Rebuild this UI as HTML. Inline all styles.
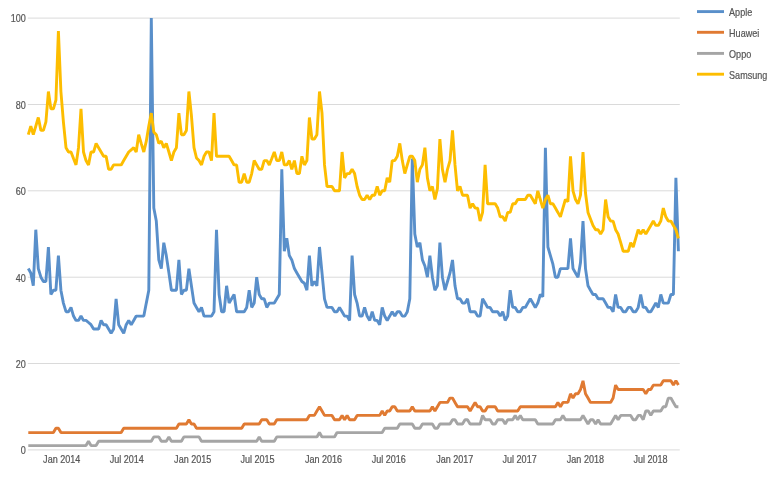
<!DOCTYPE html>
<html><head><meta charset="utf-8"><title>Search interest: Apple, Huawei, Oppo, Samsung</title>
<style>
html,body{margin:0;padding:0;background:#fff;}
body{width:780px;height:480px;overflow:hidden;}
svg{display:block;}
.series,.ylab,.xlab,.legend{filter:blur(0.35px);}
.grid{filter:blur(0.2px);}
svg text{font-family:"Liberation Sans",Arial,sans-serif;font-size:10px;fill:#555;stroke:#555;stroke-width:0.2px;}
.grid line{stroke:#d6d6d6;stroke-width:0.9;}
.series polyline{fill:none;stroke-width:2.9;stroke-linejoin:bevel;stroke-linecap:butt;}
</style></head><body>
<svg width="780" height="480" viewBox="0 0 780 480">
<rect width="780" height="480" fill="#fff"/>
<g class="grid"><line x1="27.8" x2="679.8" y1="449.9" y2="449.9"/><line x1="27.8" x2="679.8" y1="363.5" y2="363.5"/><line x1="27.8" x2="679.8" y1="277.2" y2="277.2"/><line x1="27.8" x2="679.8" y1="190.8" y2="190.8"/><line x1="27.8" x2="679.8" y1="104.5" y2="104.5"/><line x1="27.8" x2="679.8" y1="18.1" y2="18.1"/></g>
<g class="series">
<polyline points="28.3,268.6 30.8,272.9 33.3,285.8 35.8,229.7 38.3,268.6 40.9,277.2 43.4,281.5 45.9,281.5 48.4,247.0 50.9,294.5 53.4,290.2 55.9,290.2 58.4,255.6 60.9,290.2 63.4,303.1 66.0,311.7 68.5,311.7 71.0,307.4 73.5,316.1 76.0,320.4 78.5,320.4 81.0,316.1 83.5,320.4 86.0,320.4 88.5,322.5 91.0,324.7 93.6,329.0 96.1,329.0 98.6,329.0 101.1,320.4 103.6,324.7 106.1,324.7 108.6,329.0 111.1,333.3 113.6,329.0 116.1,298.8 118.7,324.7 121.2,329.0 123.7,333.3 126.2,324.7 128.7,320.4 131.2,324.7 133.7,320.4 136.2,316.1 138.7,316.1 141.2,316.1 143.8,316.1 146.3,303.1 148.8,290.2 151.3,18.1 153.8,208.1 156.3,221.1 158.8,259.9 161.3,268.6 163.8,242.7 166.3,255.6 168.9,272.9 171.4,290.2 173.9,290.2 176.4,290.2 178.9,259.9 181.4,294.5 183.9,290.2 186.4,290.2 188.9,268.6 191.4,285.8 194.0,303.1 196.5,307.4 199.0,311.7 201.5,307.4 204.0,316.1 206.5,316.1 209.0,316.1 211.5,316.1 214.0,311.7 216.5,229.7 219.1,294.5 221.6,311.7 224.1,311.7 226.6,285.8 229.1,303.1 231.6,298.8 234.1,294.5 236.6,311.7 239.1,311.7 241.7,311.7 244.2,311.7 246.7,307.4 249.2,290.2 251.7,307.4 254.2,303.1 256.7,277.2 259.2,294.5 261.7,298.8 264.2,298.8 266.8,307.4 269.3,303.1 271.8,303.1 274.3,303.1 276.8,298.8 279.3,294.5 281.8,169.3 284.3,251.3 286.8,238.3 289.3,255.6 291.8,259.9 294.4,268.6 296.9,272.9 299.4,277.2 301.9,281.5 304.4,283.2 306.9,290.2 309.4,255.6 311.9,285.8 314.4,281.5 316.9,285.8 319.5,247.0 322.0,272.9 324.5,298.8 327.0,307.4 329.5,307.4 332.0,307.4 334.5,311.7 337.0,311.7 339.5,307.4 342.1,311.7 344.6,316.1 347.1,316.1 349.6,320.4 352.1,255.6 354.6,294.5 357.1,303.1 359.6,316.1 362.1,316.1 364.6,307.4 367.1,316.1 369.7,320.4 372.2,311.7 374.7,320.4 377.2,320.4 379.7,324.7 382.2,307.4 384.7,316.1 387.2,320.4 389.7,316.1 392.2,311.7 394.8,316.1 397.3,311.7 399.8,311.7 402.3,316.1 404.8,316.1 407.3,311.7 409.8,298.8 412.3,158.5 414.8,234.0 417.3,247.0 419.9,242.7 422.4,259.9 424.9,266.0 427.4,277.2 429.9,255.6 432.4,277.2 434.9,290.2 437.4,285.8 439.9,242.7 442.4,277.2 445.0,290.2 447.5,281.5 450.0,272.9 452.5,259.9 455.0,285.8 457.5,298.8 460.0,298.8 462.5,303.1 465.0,303.1 467.5,298.8 470.1,311.7 472.6,311.7 475.1,311.7 477.6,316.1 480.1,316.1 482.6,298.8 485.1,303.1 487.6,307.4 490.1,307.4 492.6,311.7 495.2,311.7 497.7,311.7 500.2,316.1 502.7,311.7 505.2,320.4 507.7,316.1 510.2,290.2 512.7,307.4 515.2,307.4 517.7,311.7 520.3,311.7 522.8,307.4 525.3,307.4 527.8,303.1 530.3,298.8 532.8,303.1 535.3,307.4 537.8,303.1 540.3,294.5 542.8,296.6 545.4,147.7 547.9,247.0 550.4,255.6 552.9,264.2 555.4,277.2 557.9,277.2 560.4,268.6 562.9,268.6 565.4,268.6 567.9,268.6 570.5,238.3 573.0,268.6 575.5,272.9 578.0,277.2 580.5,262.5 583.0,221.1 585.5,268.6 588.0,285.8 590.5,290.2 593.0,294.5 595.6,294.5 598.1,298.8 600.6,298.8 603.1,298.8 605.6,303.1 608.1,307.4 610.6,307.4 613.1,311.7 615.6,294.5 618.1,307.4 620.7,307.4 623.2,311.7 625.7,311.7 628.2,307.4 630.7,307.4 633.2,311.7 635.7,311.7 638.2,307.4 640.7,294.5 643.2,307.4 645.8,307.4 648.3,311.7 650.8,311.7 653.3,307.4 655.8,303.1 658.3,307.4 660.8,294.5 663.3,303.1 665.8,303.1 668.3,303.1 670.9,294.5 673.4,294.5 675.9,177.9 678.4,251.3" stroke="#598fca"/>
<polyline points="28.3,432.6 30.8,432.6 33.3,432.6 35.8,432.6 38.3,432.6 40.9,432.6 43.4,432.6 45.9,432.6 48.4,432.6 50.9,432.6 53.4,432.6 55.9,428.3 58.4,428.3 60.9,432.6 63.4,432.6 66.0,432.6 68.5,432.6 71.0,432.6 73.5,432.6 76.0,432.6 78.5,432.6 81.0,432.6 83.5,432.6 86.0,432.6 88.5,432.6 91.0,432.6 93.6,432.6 96.1,432.6 98.6,432.6 101.1,432.6 103.6,432.6 106.1,432.6 108.6,432.6 111.1,432.6 113.6,432.6 116.1,432.6 118.7,432.6 121.2,432.6 123.7,428.3 126.2,428.3 128.7,428.3 131.2,428.3 133.7,428.3 136.2,428.3 138.7,428.3 141.2,428.3 143.8,428.3 146.3,428.3 148.8,428.3 151.3,428.3 153.8,428.3 156.3,428.3 158.8,428.3 161.3,428.3 163.8,428.3 166.3,428.3 168.9,428.3 171.4,428.3 173.9,428.3 176.4,428.3 178.9,424.0 181.4,424.0 183.9,424.0 186.4,424.0 188.9,419.7 191.4,424.0 194.0,424.0 196.5,428.3 199.0,428.3 201.5,428.3 204.0,428.3 206.5,428.3 209.0,428.3 211.5,428.3 214.0,428.3 216.5,428.3 219.1,428.3 221.6,428.3 224.1,428.3 226.6,428.3 229.1,428.3 231.6,428.3 234.1,428.3 236.6,428.3 239.1,428.3 241.7,428.3 244.2,424.0 246.7,424.0 249.2,424.0 251.7,424.0 254.2,424.0 256.7,424.0 259.2,424.0 261.7,419.7 264.2,419.7 266.8,419.7 269.3,424.0 271.8,424.0 274.3,424.0 276.8,419.7 279.3,419.7 281.8,419.7 284.3,419.7 286.8,419.7 289.3,419.7 291.8,419.7 294.4,419.7 296.9,419.7 299.4,419.7 301.9,419.7 304.4,419.7 306.9,419.7 309.4,415.4 311.9,415.4 314.4,415.4 316.9,411.0 319.5,406.7 322.0,411.0 324.5,415.4 327.0,415.4 329.5,415.4 332.0,415.4 334.5,419.7 337.0,419.7 339.5,419.7 342.1,415.4 344.6,419.7 347.1,415.4 349.6,419.7 352.1,419.7 354.6,419.7 357.1,415.4 359.6,415.4 362.1,415.4 364.6,415.4 367.1,415.4 369.7,415.4 372.2,415.4 374.7,415.4 377.2,415.4 379.7,415.4 382.2,411.0 384.7,415.4 387.2,411.0 389.7,411.0 392.2,406.7 394.8,406.7 397.3,411.0 399.8,411.0 402.3,411.0 404.8,411.0 407.3,411.0 409.8,411.0 412.3,406.7 414.8,411.0 417.3,411.0 419.9,411.0 422.4,411.0 424.9,411.0 427.4,411.0 429.9,411.0 432.4,406.7 434.9,411.0 437.4,406.7 439.9,402.4 442.4,402.4 445.0,402.4 447.5,402.4 450.0,398.1 452.5,398.1 455.0,402.4 457.5,406.7 460.0,406.7 462.5,406.7 465.0,406.7 467.5,406.7 470.1,411.0 472.6,406.7 475.1,402.4 477.6,406.7 480.1,406.7 482.6,411.0 485.1,411.0 487.6,406.7 490.1,406.7 492.6,406.7 495.2,406.7 497.7,411.0 500.2,411.0 502.7,411.0 505.2,411.0 507.7,411.0 510.2,411.0 512.7,411.0 515.2,411.0 517.7,411.0 520.3,406.7 522.8,406.7 525.3,406.7 527.8,406.7 530.3,406.7 532.8,406.7 535.3,406.7 537.8,406.7 540.3,406.7 542.8,406.7 545.4,406.7 547.9,406.7 550.4,406.7 552.9,406.7 555.4,406.7 557.9,402.4 560.4,406.7 562.9,402.4 565.4,402.4 567.9,402.4 570.5,393.8 573.0,398.1 575.5,393.8 578.0,393.8 580.5,389.5 583.0,380.8 585.5,393.8 588.0,398.1 590.5,402.4 593.0,402.4 595.6,402.4 598.1,402.4 600.6,402.4 603.1,402.4 605.6,402.4 608.1,402.4 610.6,402.4 613.1,398.1 615.6,385.1 618.1,389.5 620.7,389.5 623.2,389.5 625.7,389.5 628.2,389.5 630.7,389.5 633.2,389.5 635.7,389.5 638.2,389.5 640.7,389.5 643.2,389.5 645.8,393.8 648.3,389.5 650.8,389.5 653.3,385.1 655.8,385.1 658.3,385.1 660.8,385.1 663.3,380.8 665.8,380.8 668.3,380.8 670.9,380.8 673.4,385.1 675.9,380.8 678.4,385.1" stroke="#e07a32"/>
<polyline points="28.3,445.6 30.8,445.6 33.3,445.6 35.8,445.6 38.3,445.6 40.9,445.6 43.4,445.6 45.9,445.6 48.4,445.6 50.9,445.6 53.4,445.6 55.9,445.6 58.4,445.6 60.9,445.6 63.4,445.6 66.0,445.6 68.5,445.6 71.0,445.6 73.5,445.6 76.0,445.6 78.5,445.6 81.0,445.6 83.5,445.6 86.0,445.6 88.5,441.3 91.0,445.6 93.6,445.6 96.1,445.6 98.6,441.3 101.1,441.3 103.6,441.3 106.1,441.3 108.6,441.3 111.1,441.3 113.6,441.3 116.1,441.3 118.7,441.3 121.2,441.3 123.7,441.3 126.2,441.3 128.7,441.3 131.2,441.3 133.7,441.3 136.2,441.3 138.7,441.3 141.2,441.3 143.8,441.3 146.3,441.3 148.8,441.3 151.3,441.3 153.8,436.9 156.3,436.9 158.8,436.9 161.3,441.3 163.8,441.3 166.3,441.3 168.9,436.9 171.4,441.3 173.9,441.3 176.4,441.3 178.9,441.3 181.4,441.3 183.9,436.9 186.4,436.9 188.9,436.9 191.4,436.9 194.0,436.9 196.5,436.9 199.0,436.9 201.5,441.3 204.0,441.3 206.5,441.3 209.0,441.3 211.5,441.3 214.0,441.3 216.5,441.3 219.1,441.3 221.6,441.3 224.1,441.3 226.6,441.3 229.1,441.3 231.6,441.3 234.1,441.3 236.6,441.3 239.1,441.3 241.7,441.3 244.2,441.3 246.7,441.3 249.2,441.3 251.7,441.3 254.2,441.3 256.7,441.3 259.2,436.9 261.7,441.3 264.2,441.3 266.8,441.3 269.3,441.3 271.8,441.3 274.3,441.3 276.8,436.9 279.3,436.9 281.8,436.9 284.3,436.9 286.8,436.9 289.3,436.9 291.8,436.9 294.4,436.9 296.9,436.9 299.4,436.9 301.9,436.9 304.4,436.9 306.9,436.9 309.4,436.9 311.9,436.9 314.4,436.9 316.9,436.9 319.5,432.6 322.0,436.9 324.5,436.9 327.0,436.9 329.5,436.9 332.0,436.9 334.5,436.9 337.0,432.6 339.5,432.6 342.1,432.6 344.6,432.6 347.1,432.6 349.6,432.6 352.1,432.6 354.6,432.6 357.1,432.6 359.6,432.6 362.1,432.6 364.6,432.6 367.1,432.6 369.7,432.6 372.2,432.6 374.7,432.6 377.2,432.6 379.7,432.6 382.2,432.6 384.7,428.3 387.2,428.3 389.7,428.3 392.2,428.3 394.8,428.3 397.3,428.3 399.8,424.0 402.3,424.0 404.8,424.0 407.3,424.0 409.8,424.0 412.3,424.0 414.8,428.3 417.3,428.3 419.9,428.3 422.4,424.0 424.9,424.0 427.4,424.0 429.9,424.0 432.4,424.0 434.9,428.3 437.4,428.3 439.9,424.0 442.4,424.0 445.0,424.0 447.5,424.0 450.0,424.0 452.5,419.7 455.0,419.7 457.5,424.0 460.0,424.0 462.5,424.0 465.0,419.7 467.5,419.7 470.1,424.0 472.6,424.0 475.1,424.0 477.6,424.0 480.1,424.0 482.6,415.4 485.1,419.7 487.6,419.7 490.1,419.7 492.6,424.0 495.2,424.0 497.7,419.7 500.2,419.7 502.7,419.7 505.2,424.0 507.7,419.7 510.2,419.7 512.7,419.7 515.2,415.4 517.7,419.7 520.3,415.4 522.8,419.7 525.3,419.7 527.8,419.7 530.3,419.7 532.8,419.7 535.3,419.7 537.8,424.0 540.3,424.0 542.8,424.0 545.4,424.0 547.9,424.0 550.4,424.0 552.9,424.0 555.4,419.7 557.9,419.7 560.4,419.7 562.9,415.4 565.4,419.7 567.9,419.7 570.5,419.7 573.0,419.7 575.5,419.7 578.0,419.7 580.5,419.7 583.0,415.4 585.5,419.7 588.0,424.0 590.5,419.7 593.0,419.7 595.6,424.0 598.1,419.7 600.6,424.0 603.1,424.0 605.6,424.0 608.1,424.0 610.6,424.0 613.1,419.7 615.6,415.4 618.1,419.7 620.7,415.4 623.2,415.4 625.7,415.4 628.2,415.4 630.7,415.4 633.2,419.7 635.7,419.7 638.2,415.4 640.7,415.4 643.2,419.7 645.8,411.0 648.3,411.0 650.8,415.4 653.3,411.0 655.8,411.0 658.3,411.0 660.8,411.0 663.3,406.7 665.8,406.7 668.3,398.1 670.9,398.1 673.4,402.4 675.9,406.7 678.4,406.7" stroke="#a5a5a5"/>
<polyline points="28.3,134.7 30.8,126.1 33.3,134.7 35.8,126.1 38.3,117.5 40.9,130.4 43.4,130.4 45.9,121.8 48.4,91.5 50.9,108.8 53.4,108.8 55.9,100.2 58.4,31.1 60.9,91.5 63.4,121.8 66.0,147.7 68.5,152.0 71.0,152.0 73.5,158.5 76.0,164.9 78.5,147.7 81.0,108.8 83.5,152.0 86.0,160.6 88.5,164.9 91.0,152.0 93.6,152.0 96.1,143.4 98.6,147.7 101.1,152.0 103.6,156.3 106.1,156.3 108.6,169.3 111.1,169.3 113.6,164.9 116.1,164.9 118.7,164.9 121.2,164.9 123.7,160.6 126.2,156.3 128.7,152.0 131.2,149.8 133.7,147.7 136.2,152.0 138.7,134.7 141.2,143.4 143.8,152.0 146.3,141.2 148.8,126.1 151.3,113.1 153.8,132.1 156.3,134.7 158.8,143.4 161.3,141.2 163.8,147.7 166.3,143.4 168.9,152.0 171.4,160.6 173.9,152.0 176.4,147.7 178.9,113.1 181.4,134.7 183.9,134.7 186.4,130.4 188.9,91.5 191.4,115.3 194.0,147.7 196.5,158.0 199.0,160.6 201.5,164.9 204.0,156.3 206.5,152.0 209.0,152.0 211.5,160.6 214.0,113.1 216.5,156.3 219.1,156.3 221.6,156.3 224.1,156.3 226.6,156.3 229.1,156.3 231.6,160.6 234.1,164.9 236.6,164.9 239.1,182.2 241.7,182.2 244.2,173.6 246.7,182.2 249.2,182.2 251.7,173.6 254.2,160.6 256.7,164.9 259.2,169.3 261.7,169.3 264.2,160.6 266.8,160.6 269.3,164.9 271.8,158.5 274.3,152.0 276.8,160.6 279.3,160.6 281.8,152.0 284.3,164.9 286.8,164.9 289.3,160.6 291.8,169.3 294.4,160.6 296.9,173.6 299.4,173.6 301.9,156.3 304.4,164.9 306.9,160.6 309.4,117.5 311.9,139.0 314.4,139.0 316.9,134.7 319.5,91.5 322.0,113.1 324.5,164.9 327.0,186.5 329.5,186.5 332.0,186.5 334.5,190.8 337.0,190.8 339.5,190.8 342.1,152.0 344.6,177.9 347.1,173.6 349.6,173.6 352.1,169.3 354.6,173.6 357.1,186.5 359.6,195.2 362.1,199.5 364.6,199.5 367.1,195.2 369.7,199.5 372.2,195.2 374.7,195.2 377.2,186.5 379.7,195.2 382.2,190.8 384.7,190.8 387.2,177.9 389.7,182.2 392.2,160.6 394.8,160.6 397.3,156.3 399.8,143.4 402.3,160.6 404.8,173.6 407.3,164.9 409.8,156.3 412.3,156.3 414.8,160.6 417.3,182.2 419.9,169.3 422.4,164.9 424.9,147.7 427.4,177.9 429.9,190.8 432.4,186.5 434.9,199.5 437.4,188.7 439.9,139.0 442.4,169.3 445.0,182.2 447.5,169.3 450.0,160.6 452.5,130.4 455.0,164.9 457.5,190.8 460.0,186.5 462.5,195.2 465.0,195.2 467.5,195.2 470.1,208.1 472.6,203.8 475.1,208.1 477.6,208.1 480.1,221.1 482.6,212.4 485.1,164.9 487.6,203.8 490.1,203.8 492.6,203.8 495.2,203.8 497.7,208.1 500.2,216.8 502.7,216.8 505.2,221.1 507.7,212.4 510.2,212.4 512.7,203.8 515.2,203.8 517.7,199.5 520.3,199.5 522.8,199.5 525.3,199.5 527.8,195.2 530.3,195.2 532.8,199.5 535.3,203.8 537.8,190.8 540.3,199.5 542.8,208.1 545.4,199.5 547.9,195.2 550.4,203.8 552.9,203.8 555.4,208.1 557.9,212.4 560.4,216.8 562.9,208.1 565.4,199.5 567.9,201.6 570.5,156.3 573.0,190.8 575.5,199.5 578.0,203.8 580.5,195.2 583.0,152.0 585.5,193.0 588.0,212.4 590.5,218.9 593.0,225.4 595.6,229.7 598.1,229.7 600.6,234.0 603.1,229.7 605.6,199.5 608.1,216.8 610.6,221.1 613.1,221.1 615.6,229.7 618.1,234.0 620.7,242.7 623.2,251.3 625.7,251.3 628.2,251.3 630.7,242.7 633.2,247.0 635.7,238.3 638.2,229.7 640.7,234.0 643.2,229.7 645.8,234.0 648.3,229.7 650.8,225.4 653.3,221.1 655.8,225.4 658.3,225.4 660.8,221.1 663.3,208.1 665.8,216.8 668.3,221.1 670.9,221.1 673.4,225.4 675.9,229.7 678.4,238.3" stroke="#fdbd00"/>
</g>
<g class="ylab"><text transform="translate(25.9 454.2) scale(0.905 1)" text-anchor="end">0</text><text transform="translate(25.9 367.8) scale(0.905 1)" text-anchor="end">20</text><text transform="translate(25.9 281.5) scale(0.905 1)" text-anchor="end">40</text><text transform="translate(25.9 195.1) scale(0.905 1)" text-anchor="end">60</text><text transform="translate(25.9 108.8) scale(0.905 1)" text-anchor="end">80</text><text transform="translate(25.9 22.4) scale(0.905 1)" text-anchor="end">100</text></g>
<g class="xlab"><text transform="translate(61.7 462.6) scale(0.905 1)" text-anchor="middle">Jan 2014</text><text transform="translate(126.7 462.6) scale(0.905 1)" text-anchor="middle">Jul 2014</text><text transform="translate(192.7 462.6) scale(0.905 1)" text-anchor="middle">Jan 2015</text><text transform="translate(257.5 462.6) scale(0.905 1)" text-anchor="middle">Jul 2015</text><text transform="translate(323.5 462.6) scale(0.905 1)" text-anchor="middle">Jan 2016</text><text transform="translate(388.75 462.6) scale(0.905 1)" text-anchor="middle">Jul 2016</text><text transform="translate(454.8 462.6) scale(0.905 1)" text-anchor="middle">Jan 2017</text><text transform="translate(519.6 462.6) scale(0.905 1)" text-anchor="middle">Jul 2017</text><text transform="translate(585.4 462.6) scale(0.905 1)" text-anchor="middle">Jan 2018</text><text transform="translate(650.5 462.6) scale(0.905 1)" text-anchor="middle">Jul 2018</text></g>
<g class="legend"><line x1="697" x2="724" y1="11.6" y2="11.6" stroke="#598fca" stroke-width="2.9"/><text transform="translate(729.1 16.0) scale(0.905 1)" text-anchor="start">Apple</text><line x1="697" x2="724" y1="32.3" y2="32.3" stroke="#e07a32" stroke-width="2.9"/><text transform="translate(729.1 36.699999999999996) scale(0.905 1)" text-anchor="start">Huawei</text><line x1="697" x2="724" y1="53.4" y2="53.4" stroke="#a5a5a5" stroke-width="2.9"/><text transform="translate(729.1 57.8) scale(0.905 1)" text-anchor="start">Oppo</text><line x1="697" x2="724" y1="74.2" y2="74.2" stroke="#fdbd00" stroke-width="2.9"/><text transform="translate(729.1 78.60000000000001) scale(0.905 1)" text-anchor="start">Samsung</text></g>
</svg>
</body></html>
